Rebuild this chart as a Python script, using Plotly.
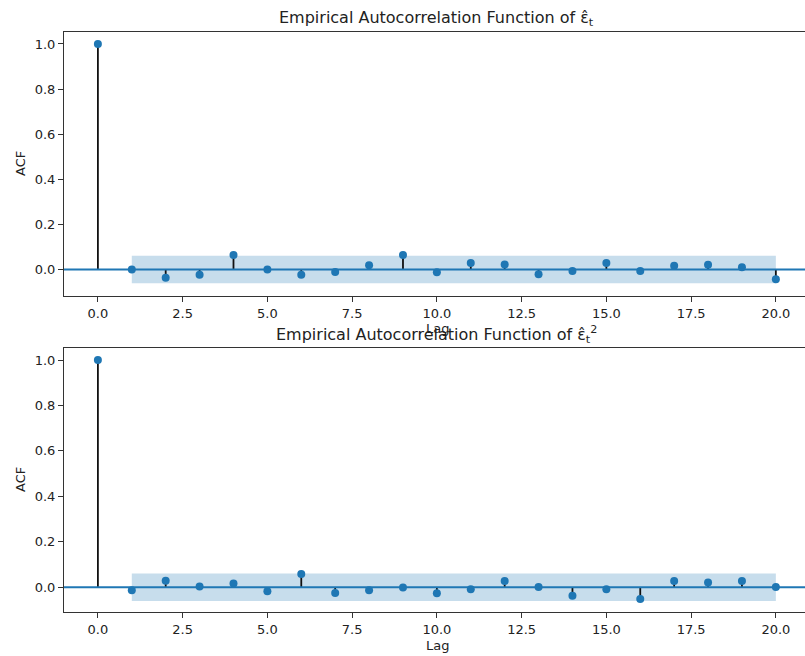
import plotly.graph_objects as go

lags = list(range(0, 21))
acf_resid = [1.0, 0.0, -0.037, -0.024, 0.064, -0.001, -0.024, -0.012, 0.018, 0.064,
             -0.013, 0.028, 0.022, -0.021, -0.007, 0.028, -0.007, 0.016, 0.021, 0.010, -0.044]
acf_resid_sq = [1.0, -0.013, 0.028, 0.003, 0.016, -0.018, 0.058, -0.025, -0.013, -0.001,
                -0.026, -0.009, 0.027, 0.001, -0.038, -0.009, -0.052, 0.027, 0.021, 0.027, 0.001]
conf_half_width = 0.061
titles = ["Empirical Autocorrelation Function of ε̂<sub>t</sub>",
          "Empirical Autocorrelation Function of ε̂<sub>t</sub><sup>2</sup>"]
x_ticks = [0.0, 2.5, 5.0, 7.5, 10.0, 12.5, 15.0, 17.5, 20.0]
y_ticks = [0.0, 0.2, 0.4, 0.6, 0.8, 1.0]

BLUE = "#1f77b4"
TXT = "#222222"
W, H = 805, 656
L, R, T, B = 64, 0, 32, 44

fig = go.Figure()

panels = [(acf_resid, "x", "y"), (acf_resid_sq, "x2", "y2")]
for vals, xa, ya in panels:
    band_x = lags[1:]
    upper = [conf_half_width] * len(band_x)
    lower = [-conf_half_width] * len(band_x)
    fig.add_trace(go.Scatter(x=band_x + band_x[::-1], y=upper + lower[::-1],
                             fill="toself", fillcolor="rgba(31,119,180,0.25)",
                             line=dict(width=0), mode="lines", hoverinfo="skip",
                             showlegend=False, xaxis=xa, yaxis=ya))
    sx, sy = [], []
    for lg, v in zip(lags, vals):
        sx += [lg, lg, None]
        sy += [0, v, None]
    fig.add_trace(go.Scatter(x=sx, y=sy, mode="lines", line=dict(color="#111111", width=1.8),
                             showlegend=False, xaxis=xa, yaxis=ya))
    fig.add_trace(go.Scatter(x=lags, y=vals, mode="markers",
                             marker=dict(color=BLUE, size=8),
                             showlegend=False, xaxis=xa, yaxis=ya))
    fig.add_shape(type="line", xref=f"{xa} domain", yref=ya, x0=0, x1=1, y0=0, y1=0,
                  line=dict(color=BLUE, width=2), layer="above")

plot_h = H - T - B
top_dom = [(612 - 296) / plot_h, 1.0]
bot_dom = [0.0, (612 - 348) / plot_h]

xr = [-1.0, 20.86]
yr_top = [-0.118, 1.053]
yr_bot = [-0.109, 1.053]
axis_common = dict(showgrid=False, zeroline=False, showline=True, linecolor="#333333",
                   linewidth=1, mirror=True, ticks="outside", ticklen=5, tickwidth=1,
                   tickcolor="#333333", tickfont=dict(family="DejaVu Sans", size=13, color=TXT))

fig.update_layout(
    width=W, height=H,
    margin=dict(l=L, r=R, t=T, b=B),
    paper_bgcolor="white", plot_bgcolor="white",
    font=dict(family="DejaVu Sans", size=13, color=TXT),
    xaxis=dict(domain=[0, 1], anchor="y", range=xr, tickvals=x_ticks,
               ticktext=[f"{v:.1f}" for v in x_ticks], **axis_common),
    yaxis=dict(domain=top_dom, anchor="x", range=yr_top, tickvals=y_ticks,
               ticktext=[f"{v:.1f}" for v in y_ticks], **axis_common),
    xaxis2=dict(domain=[0, 1], anchor="y2", range=xr, tickvals=x_ticks,
                ticktext=[f"{v:.1f}" for v in x_ticks], **axis_common),
    yaxis2=dict(domain=bot_dom, anchor="x2", range=yr_bot, tickvals=y_ticks,
                ticktext=[f"{v:.1f}" for v in y_ticks], **axis_common),
)

def py(pix):
    return (612 - pix) / plot_h

def px(pix):
    return (pix - L) / (W - L - R)

ann = []
for title, ty in zip(titles, [18, 334]):
    ann.append(dict(text=title, x=px(436), y=py(ty), xref="paper", yref="paper",
                    xanchor="center", yanchor="middle", showarrow=False,
                    font=dict(family="DejaVu Sans", size=16, color=TXT)))
for ly in [328, 645]:
    ann.append(dict(text="Lag", x=px(437), y=py(ly), xref="paper", yref="paper",
                    xanchor="center", yanchor="middle", showarrow=False,
                    font=dict(family="DejaVu Sans", size=13, color=TXT)))
for ay in [164, 480]:
    ann.append(dict(text="ACF", x=px(20), y=py(ay), xref="paper", yref="paper",
                    xanchor="center", yanchor="middle", showarrow=False, textangle=-90,
                    font=dict(family="DejaVu Sans", size=13, color=TXT)))
fig.update_layout(annotations=ann)

fig.write_html("out.html", config={"displayModeBar": False},
               post_script="document.body.style.margin='0px';")
